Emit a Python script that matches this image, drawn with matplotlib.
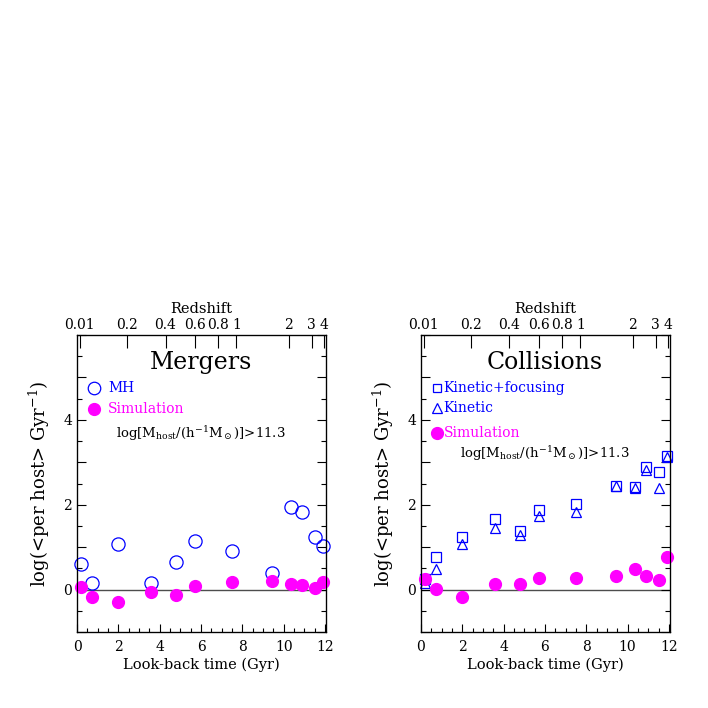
import numpy as np
import matplotlib
matplotlib.use('Agg')
import matplotlib.pyplot as plt
from matplotlib.ticker import MultipleLocator

plt.rcParams['font.family'] = 'DejaVu Serif'
plt.rcParams['mathtext.fontset'] = 'dejavuserif'

# look-back time (Gyr) of the snapshots
t_lb = [0.18, 0.71, 1.97, 3.60, 4.77, 5.73, 7.50, 9.44, 10.34, 10.89, 11.52, 11.92]

# mergers
merg_mh = [0.61, 0.15, 1.07, 0.15, 0.65, 1.14, 0.90, 0.39, 1.94, 1.82, 1.25, 1.02]
merg_sim = [0.06, -0.17, -0.30, -0.05, -0.13, 0.08, 0.17, 0.21, 0.14, 0.12, 0.04, 0.19]

# collisions
coll_kinfoc = [0.25, 0.76, 1.24, 1.66, 1.39, 1.87, 2.01, 2.45, 2.42, 2.88, 2.77, 3.15]
coll_kin = [0.15, 0.49, 1.08, 1.46, 1.28, 1.74, 1.82, 2.43, 2.39, 2.82, 2.39, 3.13]
coll_sim = [0.25, 0.02, -0.18, 0.13, 0.13, 0.28, 0.28, 0.31, 0.49, 0.31, 0.22, 0.76]

z_ticks = [0.01, 0.2, 0.4, 0.6, 0.8, 1, 2, 3, 4]
z_labels = ["0.01", "0.2", "0.4", "0.6", "0.8", "1", "2", "3", "4"]

BLUE = (0, 0, 1)
MAG = (1, 0, 1)


def lookback(z, h=0.7, om=0.3):
    # flat LCDM look-back time in Gyr
    zz = np.linspace(0, z, 2000)
    integrand = 1.0 / ((1 + zz) * np.sqrt(om * (1 + zz) ** 3 + 1 - om))
    th = 977.8 / (100 * h)
    return th * np.trapezoid(integrand, zz)


def setup(ax):
    ax.set_xlim(0, 12.05)
    ax.set_ylim(-1, 6)
    ax.axhline(0, color='0.3', lw=1.0, zorder=1)
    ax.xaxis.set_major_locator(MultipleLocator(2))
    ax.xaxis.set_minor_locator(MultipleLocator(0.5))
    ax.yaxis.set_major_locator(MultipleLocator(2))
    ax.yaxis.set_minor_locator(MultipleLocator(0.5))
    ax.set_yticks([-1, 0, 1, 2, 3, 4, 5, 6], minor=False)
    ax.set_yticklabels(["", "0", "", "2", "", "4", "", ""])
    ax.tick_params(which='major', direction='in', length=6.5, width=0.8,
                   labelsize=10, right=True, top=False)
    ax.tick_params(which='minor', direction='in', length=3.5, width=0.8,
                   right=True, top=False)
    ax.tick_params(axis='x', which='major', length=6, pad=6)
    ax.tick_params(axis='x', which='minor', length=3)
    for s in ax.spines.values():
        s.set_linewidth(0.9)
    ax.set_xlabel("Look-back time (Gyr)", fontsize=10.5, labelpad=2)
    ax.set_ylabel(r"log(<per host> Gyr$^{-1}$)", fontsize=13, labelpad=8)

    top = ax.twiny()
    top.set_xlim(ax.get_xlim())
    top.set_xticks([lookback(z) for z in z_ticks])
    top.set_xticklabels(z_labels, fontsize=10)
    top.tick_params(direction='in', length=9.5, width=0.8, pad=2)
    top.xaxis.set_minor_locator(plt.NullLocator())
    top.set_xlabel("Redshift", fontsize=10.5, labelpad=4)
    return top


fig = plt.figure(figsize=(7.08, 7.08), dpi=100)
ax1 = fig.add_axes([0.1088, 0.1073, 0.3517, 0.4195])
ax2 = fig.add_axes([0.5946, 0.1073, 0.3517, 0.4195])

# Mergers panel
setup(ax1)
ax1.plot(t_lb, merg_mh, 'o', mfc='none', mec=BLUE, ms=9.5, mew=0.9, clip_on=False, zorder=3)
ax1.plot(t_lb, merg_sim, 'o', color=MAG, ms=8.5, clip_on=False, zorder=3)
ax1.text(6.0, 5.35, "Mergers", fontsize=17, ha='center', va='center')
ax1.plot([0.8], [4.74], 'o', mfc='none', mec=BLUE, ms=9, mew=0.9)
ax1.text(1.5, 4.74, "MH", color=BLUE, fontsize=10, va='center')
ax1.plot([0.8], [4.26], 'o', color=MAG, ms=8.5)
ax1.text(1.5, 4.26, "Simulation", color=MAG, fontsize=10, va='center')
ax1.text(6.0, 3.68, r"log[M$_{\rm host}$/(h$^{-1}$M$_\odot$)]>11.3",
         fontsize=9.5, ha='center', va='center')

# Collisions panel
setup(ax2)
ax2.plot(t_lb, coll_kinfoc, 's', mfc='none', mec=BLUE, ms=6.5, mew=0.9, clip_on=False, zorder=3)
ax2.plot(t_lb, coll_kin, '^', mfc='none', mec=BLUE, ms=7.5, mew=0.9, clip_on=False, zorder=3)
ax2.plot(t_lb, coll_sim, 'o', color=MAG, ms=8.5, clip_on=False, zorder=3)
ax2.text(6.0, 5.35, "Collisions", fontsize=17, ha='center', va='center')
ax2.plot([0.76], [4.74], 's', mfc='none', mec=BLUE, ms=6, mew=0.9)
ax2.text(1.1, 4.74, "Kinetic+focusing", color=BLUE, fontsize=10, va='center')
ax2.plot([0.76], [4.28], '^', mfc='none', mec=BLUE, ms=7, mew=0.9)
ax2.text(1.1, 4.28, "Kinetic", color=BLUE, fontsize=10, va='center')
ax2.plot([0.76], [3.68], 'o', color=MAG, ms=8.5)
ax2.text(1.1, 3.68, "Simulation", color=MAG, fontsize=10, va='center')
ax2.text(6.0, 3.2, r"log[M$_{\rm host}$/(h$^{-1}$M$_\odot$)]>11.3",
         fontsize=9.5, ha='center', va='center')

fig.savefig("out.png", dpi=100)
